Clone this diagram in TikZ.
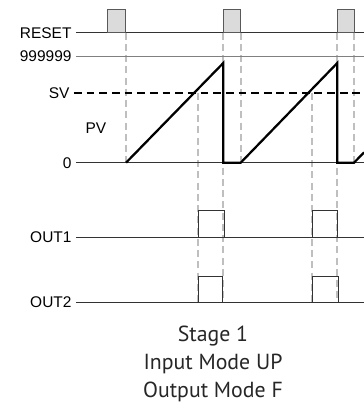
\documentclass[tikz,border=0pt]{standalone}
\usepackage{fontspec}
\setmainfont{Liberation Sans}
\newfontfamily\capfont{PT Sans}
\usepackage{tikz}
\usetikzlibrary{positioning, calc}

\begin{document}
\begin{tikzpicture}[x=0.025cm, y=-0.025cm,
        lbl/.style={font=\fontsize{11}{13}\selectfont, anchor=east, inner xsep=3pt, inner ysep=0pt},
        base/.style={line width=0.7pt, draw=black!80},
        limit/.style={line width=0.7pt, draw=black!50},
        guide/.style={line width=1.2pt, draw=black!25, dash pattern=on 5pt off 3pt},
        setp/.style={line width=1.3pt, draw=black, dash pattern=on 5.5pt off 3.5pt},
        ramp/.style={line width=1.6pt, draw=black, line join=miter},
        rpulse/.style={draw=black!65, fill=black!14, line width=0.7pt},
        opulse/.style={draw=black!80, line width=0.6pt}]

        % Rahmen
        \useasboundingbox (0,0) rectangle (364,404);
        \coordinate (right) at (364,0);

        % Beschriftungen
        \node[lbl] (reset) at (76,32.7) {RESET};
        \node[lbl] (max) at (76,56) {999999};
        \node[lbl] (sv) at (74,92.7) {SV};
        \node[lbl] (zero) at (76,162.7) {0};
        \node[lbl] (out1) at (76,237.3) {OUT1};
        \node[lbl] (out2) at (76,302.3) {OUT2};
        \node[font=\fontsize{11}{13}\selectfont] (pv) at (96,128) {PV};

        % Hilfslinien
        \foreach \x in {126,240.7,354}
            \draw[guide] (\x,32.7) -- (\x,162.7);
        \foreach \x in {223.3,337.3}
            \draw[guide] (\x,32.7) -- (\x,302.3);
        \foreach \x in {198,312}
            \draw[guide] (\x,92.7) -- (\x,302.3);

        % Grundlinien
        \draw[base] (reset.east) -- (reset.east -| right);
        \draw[limit] (max.east) -- (max.east -| right);
        \draw[setp] (sv.east) -- (sv.east -| right);
        \draw[base] (zero.east) -- (zero.east -| right);
        \draw[base] (out1.east) -- (out1.east -| right);
        \draw[base] (out2.east) -- (out2.east -| right);

        % Reset-Impulse
        \foreach \a/\b in {107.3/125.3, 223.3/240.7, 337.3/354}
            \draw[rpulse] (\a,32.7) rectangle (\b,9.3);

        % Istwert
        \draw[ramp] (126,162.7) -- (223.3,63) -- (223.3,162.7) -- (240.7,162.7)
            -- (337.3,63) -- (337.3,162.7) -- (354,162.7) -- (364,152.4);

        % Ausgaenge
        \foreach \a/\b in {198/224, 312/337.3}
            \draw[opulse] (\a,237.3) -- (\a,210.7) -- (\b,210.7) -- (\b,237.3);
        \foreach \a/\b in {198/222.5, 312/338.5}
            \draw[opulse] (\a,302.3) -- (\a,276) -- (\b,276) -- (\b,302.3);

        % Titel
        \node[font=\capfont\fontsize{15.5}{19.9}\selectfont, align=center, text=black!85] (stage) at (213,364)
            {Stage 1\\Input Mode UP\\Output Mode F};
    \end{tikzpicture}
\end{document}
